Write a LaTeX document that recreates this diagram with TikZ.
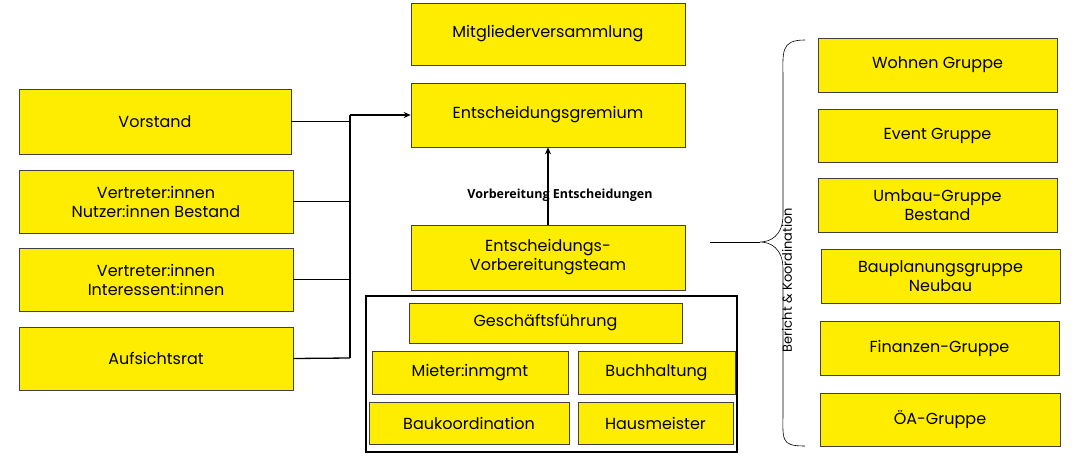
\documentclass[tikz,border=0pt]{standalone}
\usepackage{fontspec}
\setmainfont{Poppins}
\newfontfamily\lblfont{Open Sans}
\usetikzlibrary{arrows.meta,decorations.pathreplacing}
\begin{document}
\begin{tikzpicture}[x=1pt,y=-1pt,
  box/.style={draw=black!75,line width=0.6pt,fill={rgb,255:red,255;green,237;blue,0},align=center,font=\fontsize{16}{19}\selectfont,inner sep=0pt},
  conn/.style={line width=1.3pt}]
\useasboundingbox (0,0) rectangle (1092,460);
\newcommand\bx[6]{\node[box,minimum width=#4-#2,minimum height=#5-#3] (#1) at ({(#2+#4)/2},{(#3+#5)/2}) {#6};}
\bx{mv}{411}{3}{685}{65}{Mitgliederversammlung}
\bx{eg}{411}{83}{685}{147}{Entscheidungsgremium}
\bx{vs}{19}{89}{291}{154}{Vorstand}
\bx{vn}{19}{170}{293}{233}{Vertreter:innen\\Nutzer:innen Bestand}
\bx{vi}{19}{248}{293}{311}{Vertreter:innen\\Interessent:innen}
\bx{ar}{19}{327}{293}{390}{Aufsichtsrat}
\bx{vt}{411}{225}{685}{290}{Entscheidungs-\\Vorbereitungsteam}
\node[draw=black,line width=1.2pt,minimum width=371,minimum height=156,inner sep=0pt] (frame) at (551.5,374) {};
\bx{gf}{409}{303}{682}{343}{Geschäftsführung}
\bx{mm}{372}{351}{568}{394}{Mieter:inmgmt}
\bx{bh}{578}{351}{735}{394}{Buchhaltung}
\bx{bk}{369}{402}{569}{444}{Baukoordination}
\bx{hm}{578}{402}{733}{444}{Hausmeister}
\bx{wg}{818}{38}{1057}{92}{Wohnen Gruppe}
\bx{ev}{818}{109}{1057}{162}{Event Gruppe}
\bx{ug}{818}{178}{1057}{232}{Umbau-Gruppe\\Bestand}
\bx{bp}{821}{249}{1060}{303}{Bauplanungsgruppe\\Neubau}
\bx{fg}{820}{321}{1059}{375}{Finanzen-Gruppe}
\bx{oa}{820}{393}{1060}{446}{ÖA-Gruppe}
\coordinate (j) at (350,115);
\coordinate (jb) at (350,358);
\draw[conn] (vs.east) -- (vs.east -| j);
\draw[conn] (vn.east) -- (vn.east -| j);
\draw[conn] (vi.east) -- (vi.east -| j);
\draw[conn] (ar.east) -- (jb);
\draw[conn] (jb) -- (j);
\draw[conn,-{Stealth[length=7pt,width=6pt]}] (j) -- (eg.west |- j);
\draw[conn,-{Stealth[length=7pt,width=6pt]}] (vt.north) -- (eg.south);
\node[font=\lblfont\fontsize{12.5}{14}\selectfont\bfseries] (lb) at (560,195) {Vorbereitung Entscheidungen};
\coordinate (bt) at (760,242);
\draw[line width=0.6pt] (805,40) .. controls (780,40) and (783,52) .. (783,80) -- (783,215) .. controls (783,236) and (770,242) .. (bt) .. controls (770,242) and (783,248) .. (783,269) -- (783,410) .. controls (783,440) and (780,446) .. (805,446);
\draw[line width=0.6pt] (710,242) -- (bt);
\node[rotate=90,font=\fontsize{13}{15}\selectfont] (bk2) at (787,280) {Bericht \& Koordination};
\end{tikzpicture}
\end{document}
